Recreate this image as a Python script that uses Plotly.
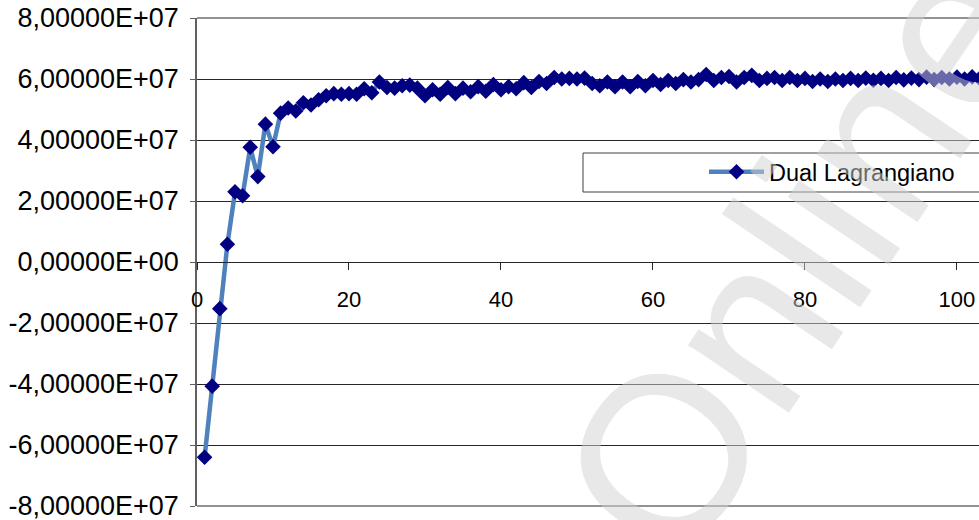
import plotly.graph_objects as go

# Iteration number and value of the Lagrangian dual function
iteracoes = list(range(1, 105))
dual_lagrangiano = [v * 1e7 for v in [
    -6.40, -4.07, -1.53, 0.58, 2.30, 2.17, 3.76, 2.80, 4.52, 3.78,
    4.88, 5.05, 4.95, 5.22, 5.15, 5.32, 5.45, 5.52, 5.50, 5.52,
    5.50, 5.68, 5.55, 5.90, 5.72, 5.70, 5.78, 5.80, 5.70, 5.45,
    5.65, 5.50, 5.72, 5.52, 5.70, 5.58, 5.75, 5.60, 5.82, 5.65,
    5.75, 5.68, 5.88, 5.72, 5.92, 5.85, 6.05, 6.00, 6.02, 6.00,
    6.03, 5.85, 5.78, 5.90, 5.75, 5.90, 5.75, 5.92, 5.78, 5.95,
    5.82, 5.95, 5.85, 5.98, 5.90, 5.98, 6.15, 5.95, 6.05, 6.08,
    5.90, 6.05, 6.12, 5.95, 6.02, 6.05, 5.95, 6.05, 5.95, 6.02,
    5.92, 6.00, 5.92, 6.00, 5.95, 6.02, 5.95, 6.03, 5.96, 6.02,
    5.95, 6.05, 5.97, 6.03, 5.98, 6.06, 5.98, 6.05, 6.00, 6.06,
    6.00, 6.07, 6.02, 6.05,
]]

y_ticks = [-8e7, -6e7, -4e7, -2e7, 0, 2e7, 4e7, 6e7, 8e7]
y_tick_labels = ["-8,00000E+07", "-6,00000E+07", "-4,00000E+07", "-2,00000E+07",
                 "0,00000E+00", "2,00000E+07", "4,00000E+07", "6,00000E+07",
                 "8,00000E+07"]
x_ticks = [0, 20, 40, 60, 80, 100]

FONT = "Liberation Sans, Arial, sans-serif"
GRID = "#262626"
W, H = 979, 520
ML, MR, MT, MB = 197, 0, 18, 14

fig = go.Figure()
fig.add_trace(go.Scatter(
    x=iteracoes, y=dual_lagrangiano,
    mode="lines+markers",
    name="Dual Lagrangiano",
    line=dict(color="#4F81BD", width=4.5),
    marker=dict(symbol="diamond", size=12, color="#000080",
                line=dict(width=0)),
))

def px_x(px):
    return (px - ML) / (W - ML - MR)

def px_y(py):
    return (H - MB - py) / (H - MT - MB)

# outermost grid lines (top and bottom of the value range)
for edge in (0, 1):
    fig.add_shape(type="line", xref="paper", yref="paper",
                  x0=0, x1=1, y0=edge, y1=edge,
                  line=dict(color=GRID, width=1.2), layer="below")

# legend frame
fig.add_shape(type="rect", xref="paper", yref="paper",
              x0=px_x(583), x1=px_x(1000), y0=px_y(192), y1=px_y(153),
              line=dict(color="#404040", width=1), fillcolor="white",
              layer="above")

# light watermark lettering crossing the lower right of the chart
fig.add_annotation(
    text="Online", xref="paper", yref="paper",
    x=px_x(800), y=px_y(255), xanchor="center", yanchor="middle",
    showarrow=False, textangle=-56,
    font=dict(family="Liberation Sans, Arial, sans-serif", size=230,
              color="rgba(210,210,210,0.5)"),
)

fig.update_layout(
    width=W, height=H,
    margin=dict(l=ML, r=MR, t=MT, b=MB, pad=0),
    paper_bgcolor="white", plot_bgcolor="white",
    font=dict(family=FONT, color="black"),
    showlegend=True,
    legend=dict(x=px_x(704), y=px_y(172), xanchor="left", yanchor="middle",
                bgcolor="rgba(0,0,0,0)", borderwidth=0, itemwidth=55,
                font=dict(family=FONT, size=23.5, color="black")),
    xaxis=dict(
        range=[0, 102.9], tickvals=x_ticks, ticktext=[str(v) for v in x_ticks],
        anchor="free", position=0.5, showline=True, linecolor=GRID,
        linewidth=1.2, ticks="outside", ticklen=7, tickcolor=GRID,
        tickwidth=1.2, showgrid=False, zeroline=False,
        ticklabelstandoff=10,
        tickfont=dict(family=FONT, size=22, color="black"),
    ),
    yaxis=dict(
        range=[-8e7, 8e7], tickvals=y_ticks, ticktext=y_tick_labels,
        showline=True, linecolor="#606060", linewidth=1.5,
        ticks="outside", ticklen=5, tickcolor="#606060",
        showgrid=True, gridcolor=GRID, gridwidth=1.2,
        zeroline=False, ticklabelstandoff=6, ticklabeloverflow="allow",
        tickfont=dict(family=FONT, size=27, color="black"),
    ),
)

fig.write_html("out.html")
